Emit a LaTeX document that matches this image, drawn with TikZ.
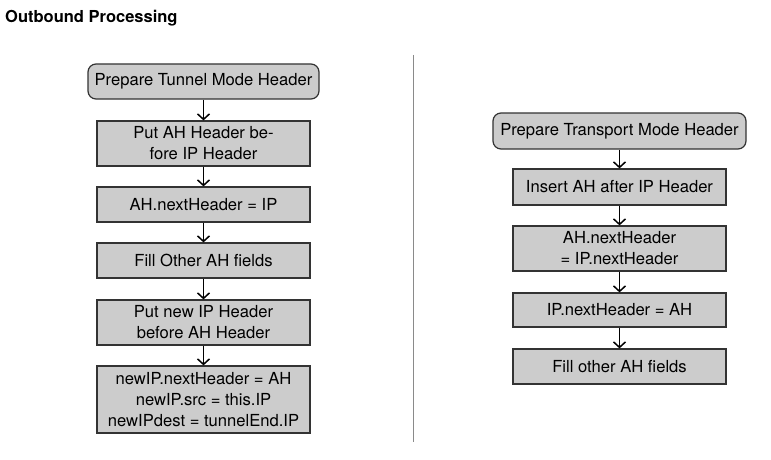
\documentclass[tikz,border=0pt]{standalone}
\usepackage{fontspec}
\setmainfont{TeX Gyre Heros}
\usetikzlibrary{arrows.meta}
\definecolor{boxfill}{HTML}{CCCCCC}
\definecolor{boxdraw}{HTML}{333333}
\definecolor{divider}{HTML}{8A8A8A}
\begin{document}
\begin{tikzpicture}[x=1pt,y=-1pt,
  every node/.style={font=\fontsize{16.6}{21}\selectfont},
  stepbox/.style={draw=boxdraw,fill=boxfill,line width=1.2pt,align=center,inner sep=2pt,minimum width=213pt},
  startbox/.style={stepbox,rounded corners=8pt},
  flow/.style={line width=1.5pt,-{Straight Barb[length=5.5pt,width=12pt,line width=1.5pt]}}]
\useasboundingbox (0,0) rectangle (771,460);
\node[anchor=base west,inner sep=0pt,font=\fontsize{16.5}{20}\selectfont\bfseries] (title) at (5,22.7) {Outbound Processing};
\draw[divider,line width=1.5pt] (413.5,55) coordinate (d1) -- (413.5,442) coordinate (d2);
% left column
\node[startbox,minimum width=231pt,minimum height=35pt] (l1) at (203.5,81.5) {Prepare Tunnel Mode Header};
\node[stepbox,minimum height=45pt] (l2) at (203.5,143.5) {Put AH Header be-\\fore IP Header};
\node[stepbox,minimum height=35pt] (l3) at (203.5,204.5) {AH.nextHeader = IP};
\node[stepbox,minimum height=35pt] (l4) at (203.5,260.5) {Fill Other AH fields};
\node[stepbox,minimum height=45pt] (l5) at (203.5,322.5) {Put new IP Header\\before AH Header};
\node[stepbox,minimum height=67pt] (l6) at (203.5,399.5) {newIP.nextHeader = AH\\newIP.src = this.IP\\newIPdest = tunnelEnd.IP};
\draw[flow] (l1) -- (l2);
\draw[flow] (l2) -- (l3);
\draw[flow] (l3) -- (l4);
\draw[flow] (l4) -- (l5);
\draw[flow] (l5) -- (l6);
% right column
\node[startbox,minimum width=253pt,minimum height=36pt] (r1) at (619.5,131) {Prepare Transport Mode Header};
\node[stepbox,minimum height=36pt] (r2) at (619.5,187) {Insert AH after IP Header};
\node[stepbox,minimum height=45pt] (r3) at (619.5,248.5) {AH.nextHeader\\= IP.nextHeader};
\node[stepbox,minimum height=34pt] (r4) at (619.5,310) {IP.nextHeader = AH};
\node[stepbox,minimum height=35pt] (r5) at (619.5,366.5) {Fill other AH fields};
\draw[flow] (r1) -- (r2);
\draw[flow] (r2) -- (r3);
\draw[flow] (r3) -- (r4);
\draw[flow] (r4) -- (r5);
\end{tikzpicture}
\end{document}
